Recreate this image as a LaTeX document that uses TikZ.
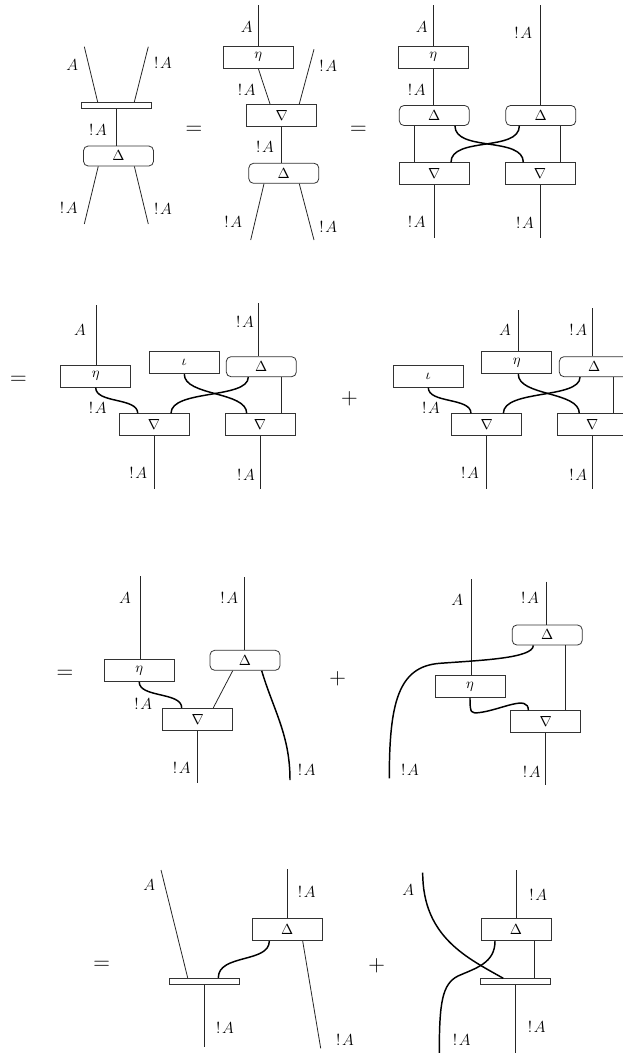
\documentclass[tikz,border=0pt]{standalone}
\usepackage{amsmath}
\usetikzlibrary{calc}
\newcommand{\bangA}{$\mathbf{!}\mkern2muA$}
\begin{document}
\begin{tikzpicture}[x=0.75pt,y=-0.75pt,
  wire/.style={line width=0.6pt, draw=black!85},
  cw/.style={line width=1.1pt, draw=black},
  gbox/.style={draw=black!80, line width=0.6pt, minimum width=52.5pt, minimum height=16.5pt, inner sep=0pt, font=\fontsize{11}{12}\selectfont},
  rbox/.style={gbox, rounded corners=3.5pt, minimum height=15pt},
  bar/.style={draw=black!80, line width=0.6pt, minimum width=52.5pt, minimum height=4.5pt, inner sep=0pt},
  lbl/.style={font=\fontsize{12.5}{14}\selectfont, inner sep=0pt},
  op/.style={font=\fontsize{19}{22}\selectfont, inner sep=0pt}]
\useasboundingbox (0,0) rectangle (622,1053);

% ================= Row 1, diagram 1
\node[bar] (bar1) at (116.7,105.5) {};
\node[rbox] (D1) at (118.5,156) {$\Delta$};
\coordinate (t1a) at (84.3,46.7);
\coordinate (t1b) at (148.3,46.7);
\coordinate (b1a) at (84.3,224);
\coordinate (b1b) at (148.3,224);
\draw[wire] (t1a) -- ([xshift=-14.25pt]bar1.north);
\draw[wire] (t1b) -- ([xshift=13.2pt]bar1.north);
\draw[wire] (bar1.south) -- (bar1.south |- D1.north);
\draw[wire] ([xshift=-15.2pt]D1.south) -- (b1a);
\draw[wire] ([xshift=11.9pt]D1.south) -- (b1b);
\node[lbl] (l1a) at (72.3,65) {$A$};
\node[lbl] (l1b) at (163,63) {\bangA};
\node[lbl] (l1c) at (98,130) {\bangA};
\node[lbl] (l1d) at (68.7,208) {\bangA};
\node[lbl] (l1e) at (163,209) {\bangA};
\node[op] (eq1) at (194,130) {$=$};

% ================= Row 1, diagram 2
\node[gbox] (eta2) at (258.3,57.2) {$\eta$};
\node[gbox] (nab2) at (281.7,115.3) {$\nabla$};
\node[rbox] (D2) at (283.8,173.3) {$\Delta$};
\coordinate (t2a) at (258.3,5);
\coordinate (t2b) at (314,49.3);
\coordinate (b2a) at (250.7,240);
\coordinate (b2b) at (314,240);
\draw[wire] (t2a) -- (eta2.north);
\draw[wire] (eta2.south) -- ([xshift=-8.8pt]nab2.north);
\draw[wire] (t2b) -- ([xshift=13.2pt]nab2.north);
\draw[wire] (nab2.south) -- (nab2.south |- D2.north);
\draw[wire] ([xshift=-14.85pt]D2.south) -- (b2a);
\draw[wire] ([xshift=11.6pt]D2.south) -- (b2b);
\node[lbl] (l2a) at (246.7,26.7) {$A$};
\node[lbl] (l2b) at (246.7,90) {\bangA};
\node[lbl] (l2c) at (328.3,66) {\bangA};
\node[lbl] (l2d) at (265,146.7) {\bangA};
\node[lbl] (l2e) at (233.3,221.7) {\bangA};
\node[lbl] (l2f) at (328.3,226.7) {\bangA};
\node[op] (eq2) at (358.3,130) {$=$};

% ================= Row 1, diagram 3
\node[gbox] (eta3) at (433.3,57.2) {$\eta$};
\node[rbox] (D3a) at (434.3,115.5) {$\Delta$};
\node[rbox] (D3b) at (540.8,115.5) {$\Delta$};
\node[gbox] (N3a) at (434.3,173.8) {$\nabla$};
\node[gbox] (N3b) at (540,173.8) {$\nabla$};
\coordinate (t3a) at (433.3,5);
\coordinate (t3b) at (540.8,5);
\coordinate (b3a) at (434.3,238.3);
\coordinate (b3b) at (540,238.3);
\draw[wire] (t3a) -- (eta3.north);
\draw[wire] (eta3.south) -- (eta3.south |- D3a.north);
\draw[wire] (t3b) -- (D3b.north);
\draw[wire] ([xshift=-15.2pt]D3a.south) -- ([xshift=-15.2pt]D3a.south |- N3a.north);
\draw[wire] ([xshift=14.4pt]D3b.south) -- ([xshift=14.4pt]D3b.south |- N3b.north);
\draw[cw] ([xshift=15.5pt]D3a.south) .. controls +(0,26) and +(0,-26) .. ([xshift=-12.5pt]N3b.north);
\draw[cw] ([xshift=-16.1pt]D3b.south) .. controls +(0,26) and +(0,-26) .. ([xshift=12.5pt]N3a.north);
\draw[wire] (N3a.south) -- (b3a);
\draw[wire] (N3b.south) -- (b3b);
\node[lbl] (l3a) at (421.7,26.7) {$A$};
\node[lbl] (l3b) at (523.3,33.3) {\bangA};
\node[lbl] (l3c) at (416.7,90) {\bangA};
\node[lbl] (l3d) at (416.7,221.7) {\bangA};
\node[lbl] (l3e) at (525,223.3) {\bangA};

% ================= Row 2, left
\node[op] (eq4) at (18.3,380) {$=$};
\node[gbox] (eta4) at (95.7,376.2) {$\eta$};
\node[gbox] (iota4) at (184.3,362.8) {$\iota$};
\node[rbox] (D4) at (261.3,366.7) {$\Delta$};
\node[gbox] (N4a) at (154,424.7) {$\nabla$};
\node[gbox] (N4b) at (260,424.7) {$\nabla$};
\coordinate (t4a) at (96.7,305);
\coordinate (t4b) at (258.3,303.3);
\coordinate (b4a) at (154,489.3);
\coordinate (b4b) at (260,489.3);
\draw[wire] (t4a) -- (t4a |- eta4.north);
\draw[wire] (t4b) -- (t4b |- D4.north);
\draw[cw] (eta4.south) .. controls +(0,16) and +(0,-16) .. ([xshift=-12.2pt]N4a.north);
\draw[cw] ([xshift=-9.75pt]D4.south) .. controls +(0,22) and +(0,-24) .. ([xshift=12.75pt]N4a.north);
\draw[cw] (iota4.south) .. controls +(0,22) and +(0,-22) .. ([xshift=-10pt]N4b.north);
\draw[wire] ([xshift=15.3pt]D4.south) -- ([xshift=15.3pt]D4.south |- N4b.north);
\draw[wire] (N4a.south) -- (b4a);
\draw[wire] (N4b.south) -- (b4b);
\node[lbl] (l4a) at (80,330) {$A$};
\node[lbl] (l4b) at (245,321.7) {\bangA};
\node[lbl] (l4c) at (97.7,408.3) {\bangA};
\node[lbl] (l4d) at (138.3,473.3) {\bangA};
\node[lbl] (l4e) at (246,475) {\bangA};

% ================= Row 2, right
\node[op] (pl5) at (349.3,398.3) {$+$};
\node[gbox] (iota5) at (428.3,376.2) {$\iota$};
\node[gbox] (eta5) at (516.7,362.8) {$\eta$};
\node[rbox] (D5) at (594.3,366.7) {$\Delta$};
\node[gbox] (N5a) at (486.7,424.7) {$\nabla$};
\node[gbox] (N5b) at (592.3,424.7) {$\nabla$};
\coordinate (t5a) at (518.3,310);
\coordinate (t5b) at (592.3,308.3);
\coordinate (b5a) at (486.7,489.3);
\coordinate (b5b) at (592.3,489.3);
\draw[wire] (t5a) -- (t5a |- eta5.north);
\draw[wire] (t5b) -- (t5b |- D5.north);
\draw[cw] (iota5.south) .. controls +(0,16) and +(0,-16) .. ([xshift=-11.8pt]N5a.north);
\draw[cw] ([xshift=-10.7pt]D5.south) .. controls +(0,22) and +(0,-24) .. ([xshift=12.5pt]N5a.north);
\draw[cw] ([xshift=1.2pt]eta5.south) .. controls +(0,22) and +(0,-22) .. ([xshift=-9.75pt]N5b.north);
\draw[wire] ([xshift=14.25pt]D5.south) -- ([xshift=14.25pt]D5.south |- N5b.north);
\draw[wire] (N5a.south) -- (b5a);
\draw[wire] (N5b.south) -- (b5b);
\node[lbl] (l5a) at (505,330) {$A$};
\node[lbl] (l5b) at (578.3,330) {\bangA};
\node[lbl] (l5c) at (431,408.3) {\bangA};
\node[lbl] (l5d) at (470,473.3) {\bangA};
\node[lbl] (l5e) at (578.3,475) {\bangA};

% ================= Row 3, left
\node[op] (eq6) at (65,674.3) {$=$};
\node[gbox] (eta6) at (139.2,670.5) {$\eta$};
\node[rbox] (D6) at (245,660.3) {$\Delta$};
\node[gbox] (N6) at (197.7,719.2) {$\nabla$};
\coordinate (t6a) at (140.7,576);
\coordinate (t6b) at (244,577.3);
\coordinate (b6a) at (197.7,782.7);
\coordinate (b6c) at (290,780);
\draw[wire] (t6a) -- (t6a |- eta6.north);
\draw[wire] (t6b) -- (t6b |- D6.north);
\draw[cw] (eta6.south) .. controls +(0,16) and +(0,-16) .. ([xshift=-12pt]N6.north);
\draw[wire] ([xshift=-9.2pt]D6.south) -- ([xshift=11.7pt]N6.north);
\draw[cw] ([xshift=12.5pt]D6.south) .. controls +(12,40) and +(0,-45) .. (b6c);
\draw[wire] (N6.south) -- (b6a);
\node[lbl] (l6a) at (125,598.3) {$A$};
\node[lbl] (l6b) at (229.3,598.3) {\bangA};
\node[lbl] (l6c) at (143.3,704) {\bangA};
\node[lbl] (l6d) at (181.7,768.3) {\bangA};
\node[lbl] (l6e) at (306.7,770) {\bangA};

% ================= Row 3, right
\node[op] (pl7) at (337.7,678.3) {$+$};
\node[gbox] (eta7) at (470,686.3) {$\eta$};
\node[rbox] (D7) at (547.2,635) {$\Delta$};
\node[gbox] (N7) at (545.7,721.7) {$\nabla$};
\coordinate (t7a) at (471.7,579.3);
\coordinate (t7b) at (546,581.7);
\coordinate (m7) at (480,712.5);
\coordinate (m7b) at (440,663.3);
\coordinate (b7a) at (545.7,785);
\coordinate (b7c) at (389.3,778.3);
\draw[wire] (t7a) -- (t7a |- eta7.north);
\draw[wire] (t7b) -- (t7b |- D7.north);
\draw[wire] ([xshift=13.9pt]D7.south) -- ([xshift=13.9pt]D7.south |- N7.north);
\draw[cw] (eta7.south) .. controls +(0,16) and +(-9,1) .. (m7)
  .. controls +(22,-3) and +(0,-16) .. ([xshift=-13pt]N7.north);
\draw[cw] ([xshift=-10.4pt]D7.south) .. controls +(0,13) and +(40,-3) .. (m7b)
  .. controls +(-42,3) and +(0,-75) .. (b7c);
\draw[wire] (N7.south) -- (b7a);
\node[lbl] (l7a) at (457.3,600) {$A$};
\node[lbl] (l7b) at (530,598.3) {\bangA};
\node[lbl] (l7c) at (410,770) {\bangA};
\node[lbl] (l7d) at (531.7,771.7) {\bangA};

% ================= Row 4, left
\node[op] (eq8) at (101.7,965) {$=$};
\node[bar] (bar8) at (204.3,981.2) {};
\node[gbox] (D8) at (287.3,929.7) {$\Delta$};
\coordinate (t8a) at (161,870);
\coordinate (t8b) at (287.3,869.3);
\coordinate (b8a) at (204.3,1046.7);
\coordinate (b8c) at (320.7,1048.3);
\draw[wire] (t8a) -- ([xshift=-12.45pt]bar8.north);
\draw[wire] (t8b) -- (D8.north);
\draw[cw] ([xshift=-13.5pt]D8.south) .. controls +(0,22) and +(0,-24) .. ([xshift=10.5pt]bar8.north);
\draw[wire] ([xshift=11.55pt]D8.south) -- (b8c);
\draw[wire] (bar8.south) -- (b8a);
\node[lbl] (l8a) at (149.3,885) {$A$};
\node[lbl] (l8b) at (306.7,891.7) {\bangA};
\node[lbl] (l8c) at (225,1028.3) {\bangA};
\node[lbl] (l8d) at (345,1040) {\bangA};

% ================= Row 4, right
\node[op] (pl9) at (376.7,965.7) {$+$};
\node[gbox] (D9) at (516,929.7) {$\Delta$};
\node[bar] (bar9) at (515.8,981.7) {};
\coordinate (t9a) at (422.7,872.7);
\coordinate (t9b) at (516,870);
\coordinate (m9) at (458,976);
\coordinate (b9a) at (515.8,1053);
\coordinate (b9c) at (439.3,1053);
\draw[wire] (t9b) -- (D9.north);
\draw[wire] ([xshift=13.7pt]D9.south) -- ([xshift=13.7pt]D9.south |- bar9.north);
\draw[wire] (bar9.south) -- (b9a);
\draw[cw] (t9a) .. controls +(0,65) and +(-35,-20) .. ([xshift=-9.4pt]bar9.north);
\draw[cw] ([xshift=-15.75pt]D9.south) .. controls +(0,22) and +(18,-8) .. (m9)
  .. controls +(-16,8) and +(0,-50) .. (b9c);
\node[lbl] (l9a) at (408.3,890) {$A$};
\node[lbl] (l9b) at (538.3,895) {\bangA};
\node[lbl] (l9c) at (536.7,1026.7) {\bangA};
\node[lbl] (l9d) at (461.7,1040) {\bangA};
\end{tikzpicture}
\end{document}
